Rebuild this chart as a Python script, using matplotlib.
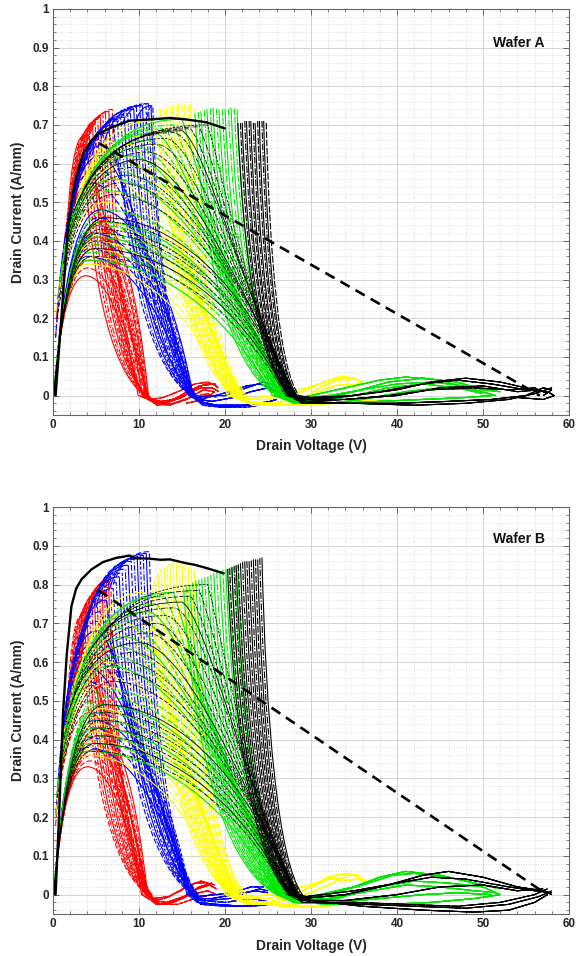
import matplotlib
matplotlib.use('Agg')
import matplotlib.pyplot as plt
from matplotlib.path import Path
from matplotlib.patches import PathPatch
from matplotlib.ticker import MultipleLocator, FixedLocator, FixedFormatter

plt.rcParams['font.family'] = ['Liberation Sans', 'DejaVu Sans']

# ------------------------------------------------------------------
# Data.
# Curves: (left_x, left_y, apex_x, apex_y, end_x, roundness)
# Spikes (narrow hairpins): (apex_x, apex_y, end_x)
# Tails: points of the low-current part after the curve reaches zero
# ------------------------------------------------------------------
A_RED = [
    (0.1, 0, 3.8, 0.31, 9.9, 1), (0.1, 0, 4.0, 0.33, 10.1, 1), (0.1, 0, 4.3, 0.35, 10.3, 1),
    (0.1, 0, 4.5, 0.36, 10.4, 1), (0.1, 0, 4.8, 0.38, 10.6, 1), (0.1, 0, 5.0, 0.39, 10.7, 1),
    (0.1, 0, 5.2, 0.41, 10.8, 1), (0.1, 0, 5.3, 0.42, 10.9, 1), (0.1, 0, 5.5, 0.44, 11.0, 1),
    (0.1, 0, 5.6, 0.45, 11.1, 1), (0.3, 0.15, 3.8, 0.48, 10.9, 0.8), (0.4, 0.2, 4.0, 0.52, 11.0, 0.6),
    (0.7, 0.26, 4.3, 0.55, 11.1, 0.5), (0.9, 0.3, 4.5, 0.58, 11.1, 0.4), (1.1, 0.33, 4.0, 0.62, 11.0, 0.3),
    (1.5, 0.38, 3.5, 0.67, 10.7, 0), (1.6, 0.39, 3.9, 0.68, 10.7, 0), (1.7, 0.40, 4.2, 0.69, 10.8, 0),
    (1.8, 0.41, 4.6, 0.70, 10.9, 0), (1.9, 0.42, 4.9, 0.71, 10.9, 0), (2.0, 0.43, 5.2, 0.715, 10.9, 0),
    (2.1, 0.44, 5.5, 0.72, 10.8, 0), (2.2, 0.45, 5.8, 0.725, 10.8, 0), (2.3, 0.46, 6.1, 0.73, 10.7, 0),
    (2.4, 0.47, 6.5, 0.735, 10.7, 0), (2.5, 0.48, 6.9, 0.74, 10.6, 0),
]
A_RED_SPIKES = []
A_BLUE = [
    (0.1, 0, 4.0, 0.36, 15.8, 1), (0.1, 0, 4.3, 0.38, 15.9, 1), (0.1, 0, 4.5, 0.40, 16.0, 1),
    (0.1, 0, 4.8, 0.42, 16.1, 1), (0.1, 0, 5.0, 0.44, 16.2, 1), (0.1, 0, 5.3, 0.46, 16.3, 1),
    (0.1, 0, 5.5, 0.48, 16.3, 1), (0.3, 0.15, 4.5, 0.55, 16.3, 0.8), (0.5, 0.22, 5.0, 0.59, 16.3, 0.7),
    (0.8, 0.3, 5.5, 0.62, 16.4, 0.6), (1.1, 0.35, 6.0, 0.65, 16.4, 0.45), (1.5, 0.4, 6.5, 0.68, 16.5, 0.3),
    (2.0, 0.45, 7.0, 0.70, 16.3, 0.15), (2.5, 0.5, 7.5, 0.71, 16.1, 0), (2.8, 0.53, 7.9, 0.715, 16.1, 0),
    (3.0, 0.55, 8.3, 0.72, 16.2, 0), (3.3, 0.57, 8.7, 0.725, 16.2, 0), (3.5, 0.58, 9.0, 0.73, 16.3, 0),
    (4.0, 0.6, 9.4, 0.74, 16.3, 0), (4.5, 0.62, 9.7, 0.745, 16.4, 0), (5.2, 0.64, 10.1, 0.75, 16.4, 0),
    (6.0, 0.66, 10.4, 0.75, 16.5, 0), (7.0, 0.68, 10.8, 0.755, 16.5, 0), (8.0, 0.70, 11.1, 0.755, 16.6, 0),
    (9.5, 0.70, 11.4, 0.75, 16.7, 0), (10.8, 0.70, 11.6, 0.75, 16.7, 0),
]
A_BLUE_SPIKES = []
A_YELLOW = [
    (0.1, 0, 4.0, 0.34, 20.3, 1), (0.1, 0, 4.3, 0.36, 20.5, 1), (0.1, 0, 4.5, 0.38, 20.7, 1),
    (0.1, 0, 4.8, 0.40, 20.9, 1), (0.1, 0, 5.0, 0.42, 21.0, 1), (0.1, 0, 5.3, 0.44, 21.2, 1),
    (0.1, 0, 5.5, 0.45, 21.3, 1), (0.4, 0.22, 6.0, 0.50, 21.5, 0.85), (0.7, 0.28, 6.5, 0.53, 21.6, 0.8),
    (1.0, 0.33, 7.0, 0.56, 21.7, 0.7), (1.2, 0.37, 7.8, 0.59, 21.8, 0.6), (1.5, 0.40, 8.5, 0.62, 21.8, 0.55),
    (2.0, 0.44, 9.2, 0.65, 21.9, 0.45), (2.5, 0.48, 10.0, 0.67, 22.0, 0.4), (3.0, 0.52, 10.8, 0.69, 22.0, 0.35),
    (3.5, 0.55, 11.5, 0.71, 22.1, 0.3),
]
A_YELLOW_SPIKES = [
    (12.5, 0.74, 21.2), (12.9, 0.742, 21.4), (13.2, 0.745, 21.5), (13.6, 0.748, 21.6), (13.9, 0.75, 21.7),
    (14.3, 0.752, 21.9), (14.6, 0.755, 22.0), (15.0, 0.752, 22.1), (15.3, 0.75, 22.2), (15.7, 0.752, 22.4),
    (16.0, 0.755, 22.5), (16.5, 0.745, 22.7),
]
A_GREEN = [
    (0.1, 0, 4.0, 0.35, 25.5, 1), (0.1, 0, 4.3, 0.37, 25.8, 1), (0.1, 0, 4.5, 0.39, 26.0, 1),
    (0.1, 0, 4.8, 0.41, 26.2, 1), (0.1, 0, 5.0, 0.42, 26.3, 1), (0.1, 0, 5.3, 0.44, 26.4, 1),
    (0.1, 0, 5.5, 0.45, 26.5, 1), (0.1, 0, 6.0, 0.48, 26.6, 1), (0.5, 0.25, 6.5, 0.53, 26.7, 0.9),
    (0.8, 0.3, 7.0, 0.56, 26.8, 0.85), (1.0, 0.33, 7.5, 0.58, 26.8, 0.8), (1.2, 0.37, 8.3, 0.60, 26.9, 0.75),
    (1.5, 0.40, 9.0, 0.62, 27.0, 0.7), (2.0, 0.44, 10.0, 0.64, 27.0, 0.6), (2.5, 0.47, 11.0, 0.66, 27.0, 0.55),
    (3.0, 0.50, 12.0, 0.68, 27.1, 0.45), (3.5, 0.53, 13.0, 0.69, 27.1, 0.4), (4.2, 0.56, 14.0, 0.70, 27.2, 0.35),
    (5.0, 0.58, 15.0, 0.715, 27.2, 0.3),
]
A_GREEN_SPIKES = [
    (16.5, 0.73, 26.0), (16.9, 0.733, 26.1), (17.2, 0.735, 26.3), (17.6, 0.738, 26.4), (17.9, 0.74, 26.5),
    (18.3, 0.742, 26.7), (18.6, 0.745, 26.8), (19.0, 0.742, 26.9), (19.3, 0.74, 27.0), (19.7, 0.74, 27.1),
    (20.0, 0.74, 27.2), (20.4, 0.742, 27.4), (20.7, 0.745, 27.5), (21.1, 0.742, 27.7), (21.4, 0.74, 27.8),
]
A_BLACK = [
    (0.1, 0, 4.5, 0.36, 27.0, 1), (0.1, 0, 4.8, 0.38, 27.2, 1), (0.1, 0, 5.0, 0.40, 27.3, 1),
    (0.1, 0, 5.3, 0.42, 27.4, 1), (0.1, 0, 5.5, 0.43, 27.5, 1), (0.1, 0, 5.8, 0.45, 27.6, 1),
    (0.1, 0, 6.0, 0.46, 27.7, 1), (0.5, 0.2, 7.0, 0.52, 27.8, 0.9), (0.8, 0.26, 7.8, 0.55, 27.9, 0.85),
    (1.0, 0.3, 8.5, 0.57, 28.0, 0.8), (1.2, 0.34, 9.2, 0.59, 28.0, 0.75), (1.5, 0.38, 10.0, 0.61, 28.0, 0.7),
    (1.8, 0.42, 11.0, 0.63, 28.1, 0.65), (2.0, 0.45, 12.0, 0.65, 28.1, 0.6), (2.5, 0.48, 13.0, 0.665, 28.1, 0.55),
    (3.0, 0.50, 14.0, 0.68, 28.2, 0.5), (3.5, 0.53, 15.0, 0.685, 28.2, 0.45), (4.0, 0.55, 16.0, 0.69, 28.2, 0.4),
    (5.0, 0.58, 17.0, 0.695, 28.3, 0.35), (6.0, 0.60, 18.0, 0.70, 28.3, 0.3),
]
A_BLACK_SPIKES = [
    (21.5, 0.705, 27.6), (21.8, 0.705, 27.65), (22.0, 0.705, 27.7), (22.3, 0.71, 27.75), (22.5, 0.71, 27.8),
    (22.8, 0.71, 27.85), (23.0, 0.71, 27.9), (23.3, 0.705, 27.95), (23.5, 0.705, 28.0), (23.8, 0.71, 28.1),
    (24.0, 0.71, 28.2), (24.3, 0.71, 28.3), (24.5, 0.71, 28.4), (24.8, 0.705, 28.6),
]
A_RED_TAILS = [
    [(11.7, -0.015), (13, -0.02), (15, -0.005), (17, 0.025), (18.7, 0.03), (19.2, 0.02)],
    [(11.9, -0.02), (13.5, -0.025), (15.5, -0.01), (17.5, 0.015), (18.8, 0.01), (17.5, -0.01), (15.5, -0.02)],
    [(11.5, -0.01), (12.8, -0.005), (14.5, 0.01), (16.5, 0.03), (18, 0.035), (19, 0.025)],
    [(11.8, -0.02), (13.2, -0.015), (15.2, 0.0), (17.2, 0.02), (18.5, 0.02), (19.3, 0.01)],
    [(12.1, -0.025), (14, -0.02), (16, -0.005), (18, 0.005), (19, -0.005)],
    [(11.6, -0.01), (12.5, -0.015), (14, -0.01), (16, 0.015), (17.8, 0.03), (18.9, 0.03)],
]
A_BLUE_TAILS = [
    [(17.0, -0.015), (19, -0.025), (22, -0.025), (24.5, -0.02), (26, -0.01)],
    [(16.8, -0.005), (18, 0.0), (20, 0.0), (22.5, 0.02), (24.5, 0.035), (26, 0.025)],
    [(17.2, -0.02), (20, -0.03), (23, -0.025), (25, -0.015)],
    [(16.9, -0.01), (18.5, -0.015), (21, -0.005), (23, 0.01), (25, 0.02), (26, 0.01)],
    [(17.4, -0.025), (19.5, -0.03), (22.5, -0.03), (25.5, -0.02)],
    [(16.8, -0.01), (18, -0.005), (20.5, 0.01), (22.5, 0.025), (24, 0.03), (25.5, 0.02)],
]
A_YELLOW_TAILS = [
    [(22.5, -0.015), (25, -0.02), (29, -0.01), (31, 0.02), (33, 0.04), (35, 0.045), (36, 0.035), (34, 0.02)],
    [(23, -0.02), (27, -0.025), (32, -0.02), (36, -0.015), (39, -0.01)],
    [(22.2, -0.01), (24, -0.005), (28, 0.01), (31, 0.03), (33, 0.045), (34.5, 0.04)],
    [(22.5, -0.02), (26, -0.02), (30, 0.0), (32.5, 0.025), (34.5, 0.03), (35.5, 0.02)],
    [(23.2, -0.025), (28, -0.025), (33, -0.02), (37, -0.012)],
    [(22.3, -0.01), (25, -0.01), (28.5, 0.005), (31.5, 0.035), (33.5, 0.05), (35, 0.045)],
]
A_GREEN_TAILS = [
    [(28, -0.015), (31, -0.01), (35, 0.01), (39, 0.035), (43, 0.045), (47, 0.035), (50, 0.015), (52, 0.01)],
    [(28, -0.02), (32, -0.02), (36, -0.01), (41, 0.01), (45, 0.02), (49, 0.015), (51.5, 0.0)],
    [(27.5, -0.01), (30, 0.0), (34, 0.02), (38, 0.04), (41, 0.048), (45, 0.04), (48, 0.02), (50, 0.01)],
    [(28.5, -0.02), (33, -0.02), (38, -0.015), (43, -0.01), (48, -0.005), (51, 0.0)],
    [(28, -0.01), (32, 0.0), (36, 0.015), (40, 0.03), (44, 0.035), (48, 0.025), (51, 0.015)],
    [(27.8, -0.015), (31, -0.015), (35, 0.0), (39, 0.02), (43, 0.03), (47, 0.02), (50, 0.005)],
]
A_BLACK_TAILS = [
    [(29, -0.01), (33, -0.005), (38, 0.01), (43, 0.03), (47, 0.04), (51, 0.03), (55, 0.015), (57.5, 0.01),
     (58.3, 0.0), (57, -0.01), (54, -0.005)],
    [(29.5, -0.015), (34, -0.01), (40, 0.0), (45, 0.02), (50, 0.025), (54, 0.01), (56.5, 0.015), (57.5, 0.005)],
    [(29, -0.02), (34, -0.02), (40, -0.02), (46, -0.015), (51, -0.01), (55, 0.0), (57, 0.02), (58, 0.015), (57, 0.0)],
    [(30, -0.005), (35, 0.0), (40, 0.015), (44, 0.035), (48, 0.045), (52, 0.035), (55, 0.02), (56.5, 0.01)],
    [(29, -0.015), (35, -0.02), (42, -0.025), (48, -0.02), (53, -0.01), (56, 0.005), (58, 0.02)],
    [(29.5, -0.01), (34, -0.01), (39, 0.0), (44, 0.015), (49, 0.02), (53, 0.015), (56, 0.02), (57, 0.01)],
]
A_ENVELOPE_X = [0.3, 0.8, 1.3, 1.7, 2.2, 2.7, 3.5, 4.46, 5.4, 6.95, 8.9, 11.2, 12.5, 13.6, 15.5, 17.8, 19.96]
A_ENVELOPE_Y = [0.0, 0.15, 0.3, 0.42, 0.51, 0.565, 0.625, 0.66, 0.678, 0.695, 0.711, 0.714, 0.716, 0.718,
                0.714, 0.707, 0.691]
A_LOADLINE_X = [5.3, 56.6]
A_LOADLINE_Y = [0.653, 0.0]

B_RED = [
    (0.1, 0, 4.0, 0.33, 10.3, 1), (0.1, 0, 4.3, 0.345, 10.4, 1), (0.1, 0, 4.5, 0.36, 10.5, 1),
    (0.1, 0, 4.8, 0.375, 10.7, 1), (0.1, 0, 5.0, 0.39, 10.8, 1), (0.1, 0, 5.3, 0.41, 10.9, 1),
    (0.1, 0, 5.5, 0.43, 11.0, 1), (0.3, 0.18, 4.3, 0.47, 11.0, 0.8), (0.3, 0.2, 4.5, 0.50, 11.0, 0.7),
    (0.6, 0.26, 4.5, 0.54, 11.1, 0.6), (0.8, 0.3, 4.5, 0.58, 11.2, 0.5), (1.0, 0.34, 4.2, 0.62, 11.2, 0.4),
    (1.2, 0.38, 4.0, 0.65, 11.2, 0.3), (1.5, 0.42, 3.3, 0.72, 11.0, 0), (1.65, 0.435, 3.6, 0.73, 11.05, 0),
    (1.8, 0.45, 3.9, 0.74, 11.1, 0), (1.95, 0.465, 4.2, 0.755, 11.15, 0), (2.1, 0.48, 4.5, 0.765, 11.2, 0),
    (2.25, 0.49, 4.8, 0.775, 11.25, 0), (2.4, 0.5, 5.1, 0.785, 11.3, 0), (2.55, 0.515, 5.4, 0.79, 11.35, 0),
    (2.7, 0.53, 5.7, 0.80, 11.4, 0), (2.85, 0.545, 5.95, 0.805, 11.4, 0), (3.0, 0.56, 6.2, 0.81, 11.4, 0),
    (3.15, 0.58, 6.45, 0.815, 11.45, 0), (3.3, 0.6, 6.7, 0.82, 11.5, 0),
]
B_RED_SPIKES = []
B_BLUE = [
    (0.1, 0, 4.0, 0.38, 15.6, 1), (0.1, 0, 4.3, 0.405, 15.7, 1), (0.1, 0, 4.5, 0.43, 15.8, 1),
    (0.1, 0, 4.8, 0.45, 15.9, 1), (0.1, 0, 5.0, 0.47, 16.0, 1), (0.3, 0.2, 4.0, 0.55, 16.0, 0.8),
    (0.45, 0.25, 4.2, 0.585, 16.05, 0.7), (0.6, 0.3, 4.5, 0.62, 16.1, 0.6), (0.8, 0.35, 4.8, 0.65, 16.15, 0.55),
    (1.0, 0.4, 5.0, 0.68, 16.2, 0.5), (1.25, 0.44, 5.2, 0.705, 16.2, 0.4), (1.5, 0.48, 5.5, 0.73, 16.2, 0.35),
    (2.0, 0.53, 6.2, 0.76, 16.25, 0.2), (2.5, 0.58, 7.0, 0.79, 16.3, 0), (2.75, 0.6, 7.35, 0.805, 16.35, 0),
    (3.0, 0.62, 7.7, 0.82, 16.4, 0), (3.25, 0.64, 8.05, 0.83, 16.45, 0), (3.5, 0.66, 8.4, 0.84, 16.5, 0),
    (3.75, 0.68, 8.75, 0.85, 16.55, 0), (4.0, 0.70, 9.1, 0.86, 16.6, 0), (4.5, 0.72, 9.45, 0.865, 16.65, 0),
    (5.0, 0.74, 9.8, 0.87, 16.7, 0), (5.5, 0.755, 10.15, 0.872, 16.75, 0), (6.0, 0.77, 10.5, 0.875, 16.8, 0),
    (6.5, 0.785, 10.85, 0.88, 16.85, 0), (7.0, 0.80, 11.2, 0.885, 16.9, 0),
]
B_BLUE_SPIKES = []
B_YELLOW = [
    (0.1, 0, 4.0, 0.36, 20.0, 1), (0.1, 0, 4.3, 0.38, 20.15, 1), (0.1, 0, 4.5, 0.40, 20.3, 1),
    (0.1, 0, 4.8, 0.42, 20.45, 1), (0.1, 0, 5.0, 0.44, 20.6, 1), (0.1, 0, 5.3, 0.46, 20.7, 1),
    (0.1, 0, 5.5, 0.48, 20.8, 1), (0.3, 0.2, 5.5, 0.54, 21.0, 0.85), (0.55, 0.26, 6.0, 0.57, 21.1, 0.78),
    (0.8, 0.32, 6.5, 0.60, 21.2, 0.7), (1.05, 0.37, 7.2, 0.635, 21.25, 0.62), (1.3, 0.42, 8.0, 0.67, 21.3, 0.55),
    (1.65, 0.46, 8.7, 0.70, 21.4, 0.48), (2.0, 0.50, 9.5, 0.73, 21.5, 0.4), (2.5, 0.535, 10.0, 0.755, 21.55, 0.35),
    (3.0, 0.57, 10.5, 0.78, 21.6, 0.3),
]
B_YELLOW_SPIKES = [
    (11.5, 0.80, 20.8), (11.85, 0.815, 20.9), (12.2, 0.83, 21.0), (12.55, 0.838, 21.1), (12.9, 0.845, 21.2),
    (13.25, 0.85, 21.3), (13.6, 0.855, 21.4), (13.95, 0.858, 21.5), (14.3, 0.86, 21.6), (14.65, 0.858, 21.75),
    (15.0, 0.855, 21.9), (15.35, 0.852, 22.05), (15.7, 0.85, 22.2), (16.05, 0.845, 22.35), (16.4, 0.84, 22.5),
]
B_GREEN = [
    (0.1, 0, 4.0, 0.37, 26.0, 1), (0.1, 0, 4.3, 0.39, 26.15, 1), (0.1, 0, 4.5, 0.41, 26.3, 1),
    (0.1, 0, 4.8, 0.43, 26.4, 1), (0.1, 0, 5.0, 0.45, 26.5, 1), (0.1, 0, 5.3, 0.47, 26.6, 1),
    (0.1, 0, 5.5, 0.49, 26.7, 1), (0.1, 0, 5.8, 0.51, 26.75, 1), (0.1, 0, 6.0, 0.53, 26.8, 1),
    (0.4, 0.25, 6.5, 0.59, 27.0, 0.85), (0.7, 0.3, 7.0, 0.615, 27.05, 0.8), (1.0, 0.35, 7.5, 0.64, 27.1, 0.75),
    (1.25, 0.4, 8.3, 0.665, 27.15, 0.68), (1.5, 0.45, 9.0, 0.69, 27.2, 0.6), (2.0, 0.49, 10.0, 0.71, 27.25, 0.55),
    (2.5, 0.53, 11.0, 0.73, 27.3, 0.5), (3.0, 0.565, 12.0, 0.75, 27.35, 0.42), (3.5, 0.6, 13.0, 0.77, 27.4, 0.35),
    (4.3, 0.63, 14.0, 0.78, 27.45, 0.3),
]
B_GREEN_SPIKES = [
    (15.2, 0.79, 26.0), (15.55, 0.795, 26.1), (15.9, 0.80, 26.2), (16.25, 0.805, 26.3), (16.6, 0.81, 26.4),
    (16.95, 0.812, 26.5), (17.3, 0.815, 26.6), (17.65, 0.818, 26.7), (18.0, 0.82, 26.8), (18.35, 0.825, 26.9),
    (18.7, 0.83, 27.0), (19.05, 0.832, 27.1), (19.4, 0.835, 27.2), (19.75, 0.838, 27.3), (20.1, 0.84, 27.4),
    (20.45, 0.842, 27.55), (20.8, 0.845, 27.7), (21.15, 0.848, 27.85), (21.5, 0.85, 28.0),
]
B_BLACK = [
    (0.1, 0, 4.5, 0.37, 27.2, 1), (0.1, 0, 4.8, 0.39, 27.35, 1), (0.1, 0, 5.0, 0.41, 27.5, 1),
    (0.1, 0, 5.3, 0.43, 27.6, 1), (0.1, 0, 5.5, 0.45, 27.7, 1), (0.1, 0, 5.8, 0.47, 27.8, 1),
    (0.1, 0, 6.0, 0.49, 27.9, 1), (0.5, 0.25, 7.0, 0.55, 28.0, 0.9), (0.75, 0.3, 7.8, 0.575, 28.05, 0.85),
    (1.0, 0.35, 8.5, 0.60, 28.1, 0.8), (1.25, 0.4, 9.2, 0.625, 28.15, 0.75), (1.5, 0.45, 10.0, 0.65, 28.2, 0.7),
    (2.0, 0.485, 11.0, 0.675, 28.25, 0.65), (2.5, 0.52, 12.0, 0.70, 28.3, 0.6), (3.0, 0.56, 13.0, 0.72, 28.35, 0.55),
    (3.5, 0.6, 14.0, 0.74, 28.4, 0.5), (4.2, 0.625, 15.0, 0.755, 28.4, 0.45), (5.0, 0.65, 16.0, 0.77, 28.4, 0.4),
    (6.0, 0.675, 17.0, 0.785, 28.45, 0.35), (7.0, 0.7, 18.0, 0.80, 28.5, 0.3),
]
B_BLACK_SPIKES = [
    (20.3, 0.84, 27.6), (20.55, 0.842, 27.7), (20.8, 0.845, 27.8), (21.05, 0.848, 27.85), (21.3, 0.85, 27.9),
    (21.55, 0.852, 27.95), (21.8, 0.855, 28.0), (22.05, 0.858, 28.1), (22.3, 0.86, 28.2), (22.55, 0.86, 28.3),
    (22.8, 0.86, 28.4), (23.05, 0.862, 28.45), (23.3, 0.865, 28.5), (23.55, 0.865, 28.6), (23.8, 0.865, 28.7),
    (24.05, 0.868, 28.85), (24.3, 0.87, 29.0),
]
B_RED_TAILS = [
    [(11.8, -0.02), (13, -0.025), (15, -0.01), (17, 0.02), (18.5, 0.03)],
    [(12, -0.025), (14, -0.02), (16, 0.0), (18, 0.01), (19, 0.0)],
    [(11.5, -0.01), (13.5, -0.005), (15.5, 0.02), (17.2, 0.035), (18.8, 0.025)],
    [(11.7, -0.015), (13.2, -0.02), (15.2, -0.005), (16.8, 0.015), (18.2, 0.025), (19, 0.015)],
    [(12.2, -0.025), (14.5, -0.025), (16.5, -0.01), (18.5, 0.0)],
    [(11.6, -0.015), (13, -0.01), (14.8, 0.01), (16.5, 0.03), (18, 0.03)],
]
B_BLUE_TAILS = [
    [(16.8, -0.02), (19, -0.025), (22, -0.03), (25, -0.025)],
    [(16.5, -0.005), (19, 0.0), (21, 0.005), (23, 0.02), (24.5, 0.02)],
    [(17, -0.015), (20, -0.02), (23, -0.01), (25.5, -0.02)],
    [(16.7, -0.01), (18.5, -0.01), (21, 0.0), (23.5, 0.01), (25, 0.005)],
    [(17.2, -0.025), (20, -0.03), (23, -0.03), (25.5, -0.025)],
    [(16.6, -0.01), (18, -0.015), (20.5, -0.01), (22.5, 0.005), (24, 0.015), (25, 0.01)],
]
B_YELLOW_TAILS = [
    [(21.5, -0.015), (25, -0.02), (28, 0.0), (31, 0.03), (33, 0.05), (35, 0.05), (36.5, 0.035)],
    [(22, -0.02), (27, -0.03), (31, -0.03), (35, -0.025), (37, -0.02)],
    [(21.5, -0.01), (25, 0.0), (29, 0.02), (32, 0.04), (34.5, 0.045)],
    [(22, -0.02), (26, -0.02), (30, 0.005), (33, 0.035), (35.5, 0.04), (36.5, 0.03)],
    [(22.5, -0.025), (27, -0.025), (31, -0.02), (35, -0.02), (36.5, -0.01)],
    [(21.8, -0.01), (25, -0.01), (29, 0.01), (32, 0.045), (34, 0.055), (35.5, 0.05)],
]
B_GREEN_TAILS = [
    [(28, -0.01), (31, 0.0), (35, 0.02), (38, 0.045), (41, 0.06), (45, 0.05), (49, 0.03), (52, 0.015)],
    [(28, -0.02), (33, -0.02), (38, -0.01), (43, 0.0), (47, 0.005), (51, 0.0)],
    [(28.5, -0.015), (33, -0.01), (38, 0.02), (42, 0.035), (46, 0.03), (50, 0.02), (52, 0.0)],
    [(28, -0.02), (33, -0.025), (39, -0.025), (44, -0.02), (49, -0.01), (52, 0.0)],
    [(28.2, -0.01), (32, 0.0), (36, 0.025), (39.5, 0.05), (42, 0.055), (46, 0.045), (50, 0.025)],
    [(28, -0.015), (32, -0.01), (37, 0.01), (41, 0.025), (45, 0.02), (49, 0.01), (51.5, 0.005)],
]
B_BLACK_TAILS = [
    [(29, -0.01), (34, 0.0), (39, 0.025), (43, 0.05), (46, 0.06), (50, 0.045), (54, 0.02), (57, 0.01), (58, 0.0)],
    [(29, -0.02), (35, -0.02), (41, -0.025), (47, -0.03), (52, -0.02), (56, 0.0), (57.5, 0.015)],
    [(30, -0.015), (36, -0.03), (43, -0.04), (49, -0.045), (53, -0.04), (56, -0.02), (57.5, 0.0)],
    [(29.5, -0.005), (35, 0.01), (40, 0.03), (44, 0.045), (48, 0.04), (53, 0.02), (56, 0.01), (58, 0.005)],
    [(29, -0.015), (34, -0.015), (40, 0.0), (45, 0.02), (50, 0.025), (54, 0.01), (57, 0.015)],
    [(30, -0.02), (36, -0.025), (42, -0.03), (48, -0.035), (53, -0.025), (56.5, -0.005), (58, 0.01)],
]
B_ENVELOPE_X = [0.3, 0.7, 1.17, 1.6, 2.14, 2.7, 3.3, 4.46, 5.8, 7.37, 8.2, 8.93, 9.5, 11.2, 12.5, 13.6,
                15.5, 16.5, 17.8, 19.85]
B_ENVELOPE_Y = [0.0, 0.2, 0.47, 0.62, 0.744, 0.79, 0.813, 0.839, 0.858, 0.869, 0.872, 0.875, 0.868,
                0.867, 0.864, 0.865, 0.855, 0.851, 0.843, 0.829]
B_LOADLINE_X = [5.3, 56.8]
B_LOADLINE_Y = [0.785, 0.01]

COLORS = {'red': '#ff0000', 'blue': '#0000ff', 'yellow': '#ffff00', 'green': '#00e600', 'black': '#000000'}
WIDTHS = {'red': 0.8, 'blue': 0.8, 'yellow': 0.8, 'green': 0.8, 'black': 0.6}
STYLES = ['-', (0, (5, 2)), (0, (5, 1.5, 1.2, 1.5)), '-', (0, (3, 1.5)), (0, (6, 1.5, 1.2, 1.5))]
BLACK_STYLES = [(0, (5, 1.5, 1.2, 1.5)), '-', (0, (5, 2)), (0, (6, 1.5, 1.2, 1.5)), (0, (3, 1.5))]
SPIKE_STYLES = ['-', (0, (6, 1.5)), '-', (0, (6, 1.5, 1.2, 1.5))]


def curve_path(c, tail):
    lx, ly, ax_, ay, ex, r = c
    verts = [(lx, ly)]
    codes = [Path.MOVETO]
    if ax_ - lx > 0.05:
        verts += [(lx + 0.3 * (ax_ - lx), ay), (ax_, ay)]
        codes += [Path.CURVE3, Path.CURVE3]
    d = ex - ax_
    c1 = (ax_ + (0.1 + 0.25 * r) * d, ay * (0.5 + 0.5 * min(1.0, 2 * r)))
    c2 = (ax_ + (0.4 + 0.35 * r) * d, ay * (0.1 + 0.55 * r))
    verts += [c1, c2, (ex, 0.0)]
    codes += [Path.CURVE4, Path.CURVE4, Path.CURVE4]
    for p in tail:
        verts.append(p)
        codes.append(Path.LINETO)
    return Path(verts, codes)


def draw_family(ax, curves, spikes, tails, cname):
    styles = BLACK_STYLES if cname == 'black' else STYLES
    for i, c in enumerate(curves):
        p = curve_path(c, tails[i % len(tails)])
        ax.add_patch(PathPatch(p, fill=False, edgecolor=COLORS[cname], lw=WIDTHS[cname],
                               linestyle=styles[i % len(styles)], capstyle='butt'))
    for j, s in enumerate(spikes):
        p = curve_path((s[0], s[1], s[0], s[1], s[2], 0), tails[(j + len(curves)) % len(tails)])
        ax.add_patch(PathPatch(p, fill=False, edgecolor=COLORS[cname], lw=0.8,
                               linestyle=SPIKE_STYLES[j % len(SPIKE_STYLES)], capstyle='butt'))


def style_axes(ax):
    ax.set_xlim(0, 60)
    ax.set_ylim(-0.05, 1)
    ax.xaxis.set_major_locator(MultipleLocator(10))
    ax.xaxis.set_minor_locator(MultipleLocator(2))
    yt = [0, 0.1, 0.2, 0.3, 0.4, 0.5, 0.6, 0.7, 0.8, 0.9, 1]
    ax.yaxis.set_major_locator(FixedLocator(yt))
    ax.yaxis.set_major_formatter(FixedFormatter(['0', '0.1', '0.2', '0.3', '0.4', '0.5', '0.6', '0.7',
                                                 '0.8', '0.9', '1']))
    ax.yaxis.set_minor_locator(MultipleLocator(0.02))
    ax.grid(True, which='major', color='#d4d4d4', lw=0.7, ls='-')
    ax.grid(True, which='minor', color='#cfcfcf', lw=0.6, ls=(0, (1, 2)))
    ax.set_axisbelow(True)
    ax.tick_params(which='both', direction='in', top=True, right=True, colors='#555555',
                   labelcolor='#262626', labelsize=8.5, pad=3)
    ax.tick_params(which='major', length=4, width=0.6)
    ax.tick_params(which='minor', length=2, width=0.5)
    for lab in ax.get_xticklabels() + ax.get_yticklabels():
        lab.set_fontweight('bold')
    for s in ax.spines.values():
        s.set_color('#666666')
        s.set_linewidth(0.8)
    ax.set_xlabel('Drain Voltage (V)', fontsize=10, fontweight='bold', color='#262626', labelpad=6)
    ax.set_ylabel('Drain Current (A/mm)', fontsize=10, fontweight='bold', color='#262626', labelpad=5)


fig = plt.figure(figsize=(5.85, 9.56), dpi=100)
axA = fig.add_axes([0.0906, 0.566, 0.882, 0.4247])
axB = fig.add_axes([0.0906, 0.0439, 0.882, 0.4257])

panels = [
    (axA, [(A_RED, A_RED_SPIKES, A_RED_TAILS, 'red'), (A_BLUE, A_BLUE_SPIKES, A_BLUE_TAILS, 'blue'),
           (A_YELLOW, A_YELLOW_SPIKES, A_YELLOW_TAILS, 'yellow'), (A_GREEN, A_GREEN_SPIKES, A_GREEN_TAILS, 'green'),
           (A_BLACK, A_BLACK_SPIKES, A_BLACK_TAILS, 'black')],
     A_ENVELOPE_X, A_ENVELOPE_Y, A_LOADLINE_X, A_LOADLINE_Y, 'Wafer A', 0.913),
    (axB, [(B_RED, B_RED_SPIKES, B_RED_TAILS, 'red'), (B_BLUE, B_BLUE_SPIKES, B_BLUE_TAILS, 'blue'),
           (B_YELLOW, B_YELLOW_SPIKES, B_YELLOW_TAILS, 'yellow'), (B_GREEN, B_GREEN_SPIKES, B_GREEN_TAILS, 'green'),
           (B_BLACK, B_BLACK_SPIKES, B_BLACK_TAILS, 'black')],
     B_ENVELOPE_X, B_ENVELOPE_Y, B_LOADLINE_X, B_LOADLINE_Y, 'Wafer B', 0.917),
]

for ax, fams, ex_, ey_, lx_, ly_, title, ty in panels:
    style_axes(ax)
    for curves, spikes, tails, cname in fams:
        draw_family(ax, curves, spikes, tails, cname)
    ax.plot(ex_, ey_, color='black', lw=1.7, solid_capstyle='round', zorder=5)
    ax.plot(lx_, ly_, color='black', lw=1.9, dashes=(4, 2.6), zorder=5)
    ax.text(51.2, ty, title, fontsize=10, fontweight='bold', color='#111111', ha='left', va='center')

fig.savefig('out.png', dpi=100)
